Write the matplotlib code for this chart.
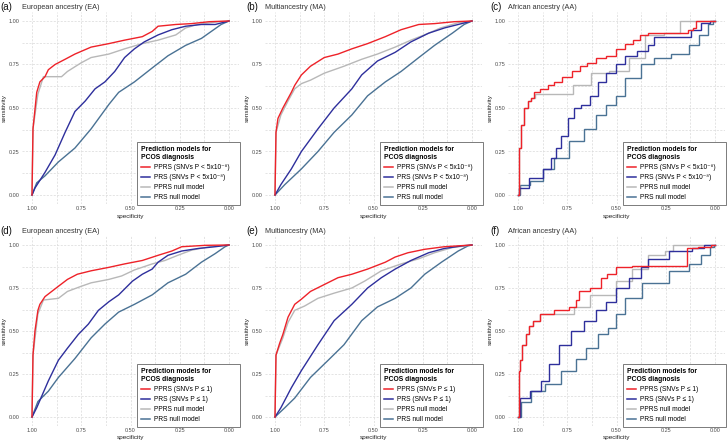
import numpy as np
import matplotlib
matplotlib.use("Agg")
import matplotlib.pyplot as plt
from matplotlib.lines import Line2D

plt.rcParams["font.family"] = ["Liberation Sans", "DejaVu Sans"]

# ==========================================
# DATA (x = 1 - specificity, y = sensitivity)
# ==========================================
PANEL_TAGS = ["(a)", "(b)", "(c)", "(d)", "(e)", "(f)"]
PANEL_TITLES = ["European ancestry (EA)", "Multiancestry (MA)", "African ancestry (AA)",
                "European ancestry (EA)", "Multiancestry (MA)", "African ancestry (AA)"]

# (a) EA, SNVs P < 5x10^-8
a_pprs_fpr = [0, .005, .024, .04, .066, .083, .117, .168, .218, .30, .39, .47, .56, .61, .64, .73, .81, .90, 1]
a_pprs_sens = [0, .38, .59, .65, .68, .72, .75, .78, .81, .85, .87, .89, .91, .94, .97, .98, .985, .996, 1]
a_prs_fpr = [0, .015, .066, .117, .168, .218, .27, .32, .37, .42, .47, .52, .57, .64, .71, .78, .86, .93, 1]
a_prs_sens = [0, .04, .13, .23, .36, .48, .54, .61, .65, .71, .79, .84, .88, .92, .95, .97, .98, .98, 1]
a_pnull_fpr = [0, .005, .03, .058, .15, .18, .25, .30, .39, .47, .56, .64, .73, .78, .84, .95, 1]
a_pnull_sens = [0, .38, .58, .68, .68, .71, .76, .79, .81, .84, .87, .89, .92, .96, .98, .996, 1]
a_rnull_fpr = [0, .024, .066, .134, .218, .30, .39, .44, .52, .61, .69, .78, .86, .91, .96, 1]
a_rnull_sens = [0, .07, .11, .19, .27, .38, .52, .59, .65, .73, .80, .86, .90, .94, .98, 1]

# (b) MA, SNVs P < 5x10^-8
b_pprs_fpr = [0, .005, .015, .04, .083, .10, .134, .18, .25, .32, .39, .47, .56, .64, .73, .81, .91, 1]
b_pprs_sens = [0, .36, .44, .50, .59, .63, .69, .74, .79, .81, .84, .87, .91, .95, .98, .985, .996, 1]
b_prs_fpr = [0, .03, .083, .134, .218, .30, .39, .44, .52, .61, .69, .78, .86, .93, 1]
b_prs_sens = [0, .06, .15, .25, .38, .50, .61, .69, .77, .82, .88, .93, .96, .98, 1]
b_pnull_fpr = [0, .005, .03, .066, .10, .134, .18, .25, .35, .44, .52, .61, .69, .78, .84, .93, 1]
b_pnull_sens = [0, .36, .46, .54, .61, .64, .66, .70, .74, .78, .81, .85, .89, .93, .96, .99, 1]
b_rnull_fpr = [0, .05, .134, .218, .30, .39, .47, .56, .64, .73, .81, .90, .96, 1]
b_rnull_sens = [0, .06, .15, .25, .36, .46, .57, .65, .71, .79, .86, .93, .98, 1]

# (c) AA, SNVs P < 5x10^-8
c_pprs_fpr = [0, .007, .024, .04, .058, .075, .09, .134, .17, .20, .25, .30, .33, .37, .42, .47,
              .52, .565, .60, .64, .675, .845, .88, .90, .91, 1]
c_pprs_sens = [0, .27, .40, .50, .54, .56, .59, .61, .63, .65, .68, .71, .74, .76, .79, .80,
               .84, .87, .89, .92, .93, .93, .95, .96, 1, 1]
c_prs_fpr = [0, .015, .10, .15, .19, .20, .235, .27, .30, .34, .39, .42, .47, .52, .57, .64,
             .675, .71, .85, .91, .95, 1]
c_prs_sens = [0, .04, .10, .15, .21, .27, .34, .44, .50, .52, .57, .65, .70, .75, .80, .83,
              .86, .91, .91, .95, .99, 1]
c_pnull_fpr = [0, .007, .024, .04, .058, .075, .10, .22, .34, .40, .52, .61, .675, .81, .83, 1]
c_pnull_sens = [0, .27, .40, .50, .54, .56, .58, .58, .63, .70, .71, .79, .92, .93, 1, 1]
c_rnull_fpr = [0, .024, .10, .15, .22, .30, .37, .42, .47, .52, .57, .675, .71, .845, .895, .946, .98, 1]
c_rnull_sens = [0, .06, .08, .15, .21, .31, .38, .46, .52, .57, .67, .75, .79, .81, .86, .92, .98, 1]

# (d) EA, SNVs P <= 1
d_pprs_fpr = [0, .005, .015, .03, .04, .066, .10, .134, .18, .23, .30, .39, .47, .56, .64, .71, .76, .88, 1]
d_pprs_sens = [0, .36, .50, .62, .655, .70, .73, .76, .80, .83, .85, .87, .89, .91, .94, .965, .99, .998, 1]
d_prs_fpr = [0, .024, .083, .134, .18, .235, .286, .337, .39, .44, .51, .56, .61, .64, .69, .76, .845, .93, 1]
d_prs_sens = [0, .054, .21, .33, .40, .48, .54, .62, .67, .71, .79, .83, .86, .90, .94, .965, .98, .99, 1]
d_pnull_fpr = [0, .005, .03, .058, .134, .18, .25, .30, .39, .455, .52, .61, .675, .74, .81, .90, 1]
d_pnull_sens = [0, .36, .60, .68, .69, .73, .76, .78, .80, .82, .855, .89, .91, .94, .97, .99, 1]
d_rnull_fpr = [0, .03, .083, .134, .218, .30, .37, .44, .52, .61, .69, .78, .86, .93, .98, 1]
d_rnull_sens = [0, .09, .15, .23, .34, .46, .54, .61, .655, .71, .78, .83, .90, .95, .99, 1]

# (e) MA, SNVs P <= 1
e_pprs_fpr = [0, .005, .024, .04, .066, .10, .134, .18, .25, .32, .39, .47, .56, .61, .675, .76, .86, 1]
e_pprs_sens = [0, .36, .43, .48, .58, .655, .685, .73, .77, .81, .83, .86, .90, .93, .955, .975, .99, 1]
e_prs_fpr = [0, .03, .083, .134, .218, .30, .39, .47, .54, .61, .69, .78, .86, .95, 1]
e_prs_sens = [0, .054, .17, .27, .42, .56, .655, .75, .81, .86, .91, .955, .98, .995, 1]
e_pnull_fpr = [0, .005, .04, .066, .10, .15, .218, .30, .39, .455, .54, .64, .73, .81, .90, 1]
e_pnull_sens = [0, .36, .46, .55, .62, .645, .69, .72, .75, .79, .85, .89, .92, .955, .985, 1]
e_rnull_fpr = [0, .05, .10, .18, .27, .35, .44, .52, .61, .69, .76, .845, .93, .98, 1]
e_rnull_sens = [0, .054, .11, .23, .33, .42, .56, .64, .69, .75, .83, .90, .965, .995, 1]

# (f) AA, SNVs P <= 1
f_pprs_fpr = [0, .007, .015, .03, .05, .066, .09, .134, .235, .286, .30, .32, .41, .43, .47, .52,
              .64, .845, .87, .96, 1]
f_pprs_sens = [0, .27, .33, .42, .48, .53, .56, .60, .62, .64, .68, .73, .75, .81, .83, .87,
               .88, .88, .985, .99, 1]
f_prs_fpr = [0, .024, .10, .134, .18, .235, .30, .37, .42, .47, .52, .61, .64, .675, .86, .91, .98, 1]
f_prs_sens = [0, .11, .15, .21, .31, .42, .50, .56, .62, .67, .75, .81, .87, .92, .965, .98, 1, 1]
f_pnull_fpr = [0, .007, .015, .03, .05, .066, .09, .134, .235, .33, .40, .47, .52, .64, .675,
               .73, .76, .81, 1]
f_pnull_sens = [0, .27, .33, .42, .48, .53, .56, .60, .60, .64, .71, .71, .79, .86, .94,
                .94, .965, 1, 1]
f_rnull_fpr = [0, .03, .10, .17, .27, .32, .37, .44, .47, .52, .57, .69, .845, .895, .96, .99, 1]
f_rnull_sens = [0, .09, .15, .19, .27, .34, .40, .48, .52, .60, .69, .78, .85, .89, .94, .99, 1]

PANEL_CURVES = [
    [(a_pprs_fpr, a_pprs_sens), (a_prs_fpr, a_prs_sens), (a_pnull_fpr, a_pnull_sens), (a_rnull_fpr, a_rnull_sens)],
    [(b_pprs_fpr, b_pprs_sens), (b_prs_fpr, b_prs_sens), (b_pnull_fpr, b_pnull_sens), (b_rnull_fpr, b_rnull_sens)],
    [(c_pprs_fpr, c_pprs_sens), (c_prs_fpr, c_prs_sens), (c_pnull_fpr, c_pnull_sens), (c_rnull_fpr, c_rnull_sens)],
    [(d_pprs_fpr, d_pprs_sens), (d_prs_fpr, d_prs_sens), (d_pnull_fpr, d_pnull_sens), (d_rnull_fpr, d_rnull_sens)],
    [(e_pprs_fpr, e_pprs_sens), (e_prs_fpr, e_prs_sens), (e_pnull_fpr, e_pnull_sens), (e_rnull_fpr, e_rnull_sens)],
    [(f_pprs_fpr, f_pprs_sens), (f_prs_fpr, f_prs_sens), (f_pnull_fpr, f_pnull_sens), (f_rnull_fpr, f_rnull_sens)],
]

LEGEND_TOP = ["PPRS (SNVs P < 5x10\u207b\u2078)", "PRS (SNVs P < 5x10\u207b\u2078)",
              "PPRS null model", "PRS null model"]
LEGEND_BOTTOM = ["PPRS (SNVs P \u2264 1)", "PRS (SNVs P \u2264 1)", "PPRS null model", "PRS null model"]
LEGEND_TITLE = "Prediction models for\nPCOS diagnosis"

COLORS = ["#ee2229", "#2e2f9c", "#b8b8b8", "#4a7294"]
# draw order: nulls underneath
DRAW_ORDER = [3, 2, 1, 0]

# ==========================================
# LAYOUT (pixel positions of the 1.00 / 0.00 ticks)
# ==========================================
W, H = 728, 442
COL_X = [(32, 229), (275, 472), (518, 715)]
ROW_Y = [(21, 195), (245, 417)]
TAG_X = [0, 246, 490]
TICKS = [0, 0.25, 0.5, 0.75, 1]
TICK_LABELS = ["0.00", "0.25", "0.50", "0.75", "1.00"]
MINOR = [0.125, 0.375, 0.625, 0.875]

fig = plt.figure(figsize=(W / 100, H / 100), dpi=100)
fig.patch.set_facecolor("white")

for i in range(6):
    row, col = divmod(i, 3)
    x1, x0 = COL_X[col]
    y1, y0 = ROW_Y[row]
    wpx = x0 - x1
    hpx = y0 - y1
    left = x1 - 0.05 * wpx
    right = x0 + 0.05 * wpx
    top = y1 - 0.05 * hpx
    bottom = y0 + 0.05 * hpx
    ax = fig.add_axes([left / W, 1 - bottom / H, (right - left) / W, (bottom - top) / H])

    ax.set_xlim(1.05, -0.05)
    ax.set_ylim(-0.05, 1.05)
    for s in ax.spines.values():
        s.set_visible(False)
    ax.set_xticks(TICKS)
    ax.set_xticklabels(TICK_LABELS)
    ax.set_yticks(TICKS)
    ax.set_yticklabels(TICK_LABELS)
    ax.set_xticks(MINOR, minor=True)
    ax.set_yticks(MINOR, minor=True)
    ax.tick_params(which="both", length=0, labelsize=4, labelcolor="#4d4d4d", pad=2)
    ax.grid(which="both", color="#d9d9d9", linestyle=(0, (3, 2)), linewidth=0.5)
    ax.set_axisbelow(True)
    ax.set_xlabel("specificity", fontsize=4.6, color="#222222", labelpad=1.5)
    ax.set_ylabel("sensitivity", fontsize=4.6, color="#222222", labelpad=1.5)

    curves = PANEL_CURVES[i]
    aa = col == 2
    for k in DRAW_ORDER:
        fpr, sens = curves[k]
        spec = 1 - np.array(fpr)
        ax.plot(spec, sens, color=COLORS[k], linewidth=1.0,
                drawstyle="steps-mid" if aa else "default", solid_joinstyle="miter")

    # legend box: fixed width (about 103 px) in the lower right corner
    box_w = 103 / (right - left)
    box_bottom = -1.5 / (bottom - top)
    labels = LEGEND_TOP if row == 0 else LEGEND_BOTTOM
    handles = [Line2D([], [], color=COLORS[k], linewidth=1.1) for k in range(4)]
    leg = ax.legend(handles, labels, title=LEGEND_TITLE,
                    loc="lower right", bbox_to_anchor=(1.005 - box_w, box_bottom, box_w, 0.5),
                    mode="expand", borderaxespad=0,
                    fontsize=4.8, title_fontsize=4.9, frameon=True, fancybox=False,
                    handlelength=1.4, handletextpad=0.6, labelspacing=0.45,
                    borderpad=0.6, alignment="left")
    leg.get_title().set_fontweight("bold")
    leg.get_frame().set_edgecolor("#666666")
    leg.get_frame().set_linewidth(0.6)
    leg.get_frame().set_alpha(1)

    tag_y = top - 5
    fig.text(TAG_X[col] / W, 1 - tag_y / H, PANEL_TAGS[i], fontsize=7, va="center",
             ha="left", color="#111111")
    fig.text(left / W, 1 - tag_y / H, PANEL_TITLES[i], fontsize=5.2, va="center",
             ha="left", color="#333333")

plt.savefig("out.png", dpi=100, facecolor="white")
